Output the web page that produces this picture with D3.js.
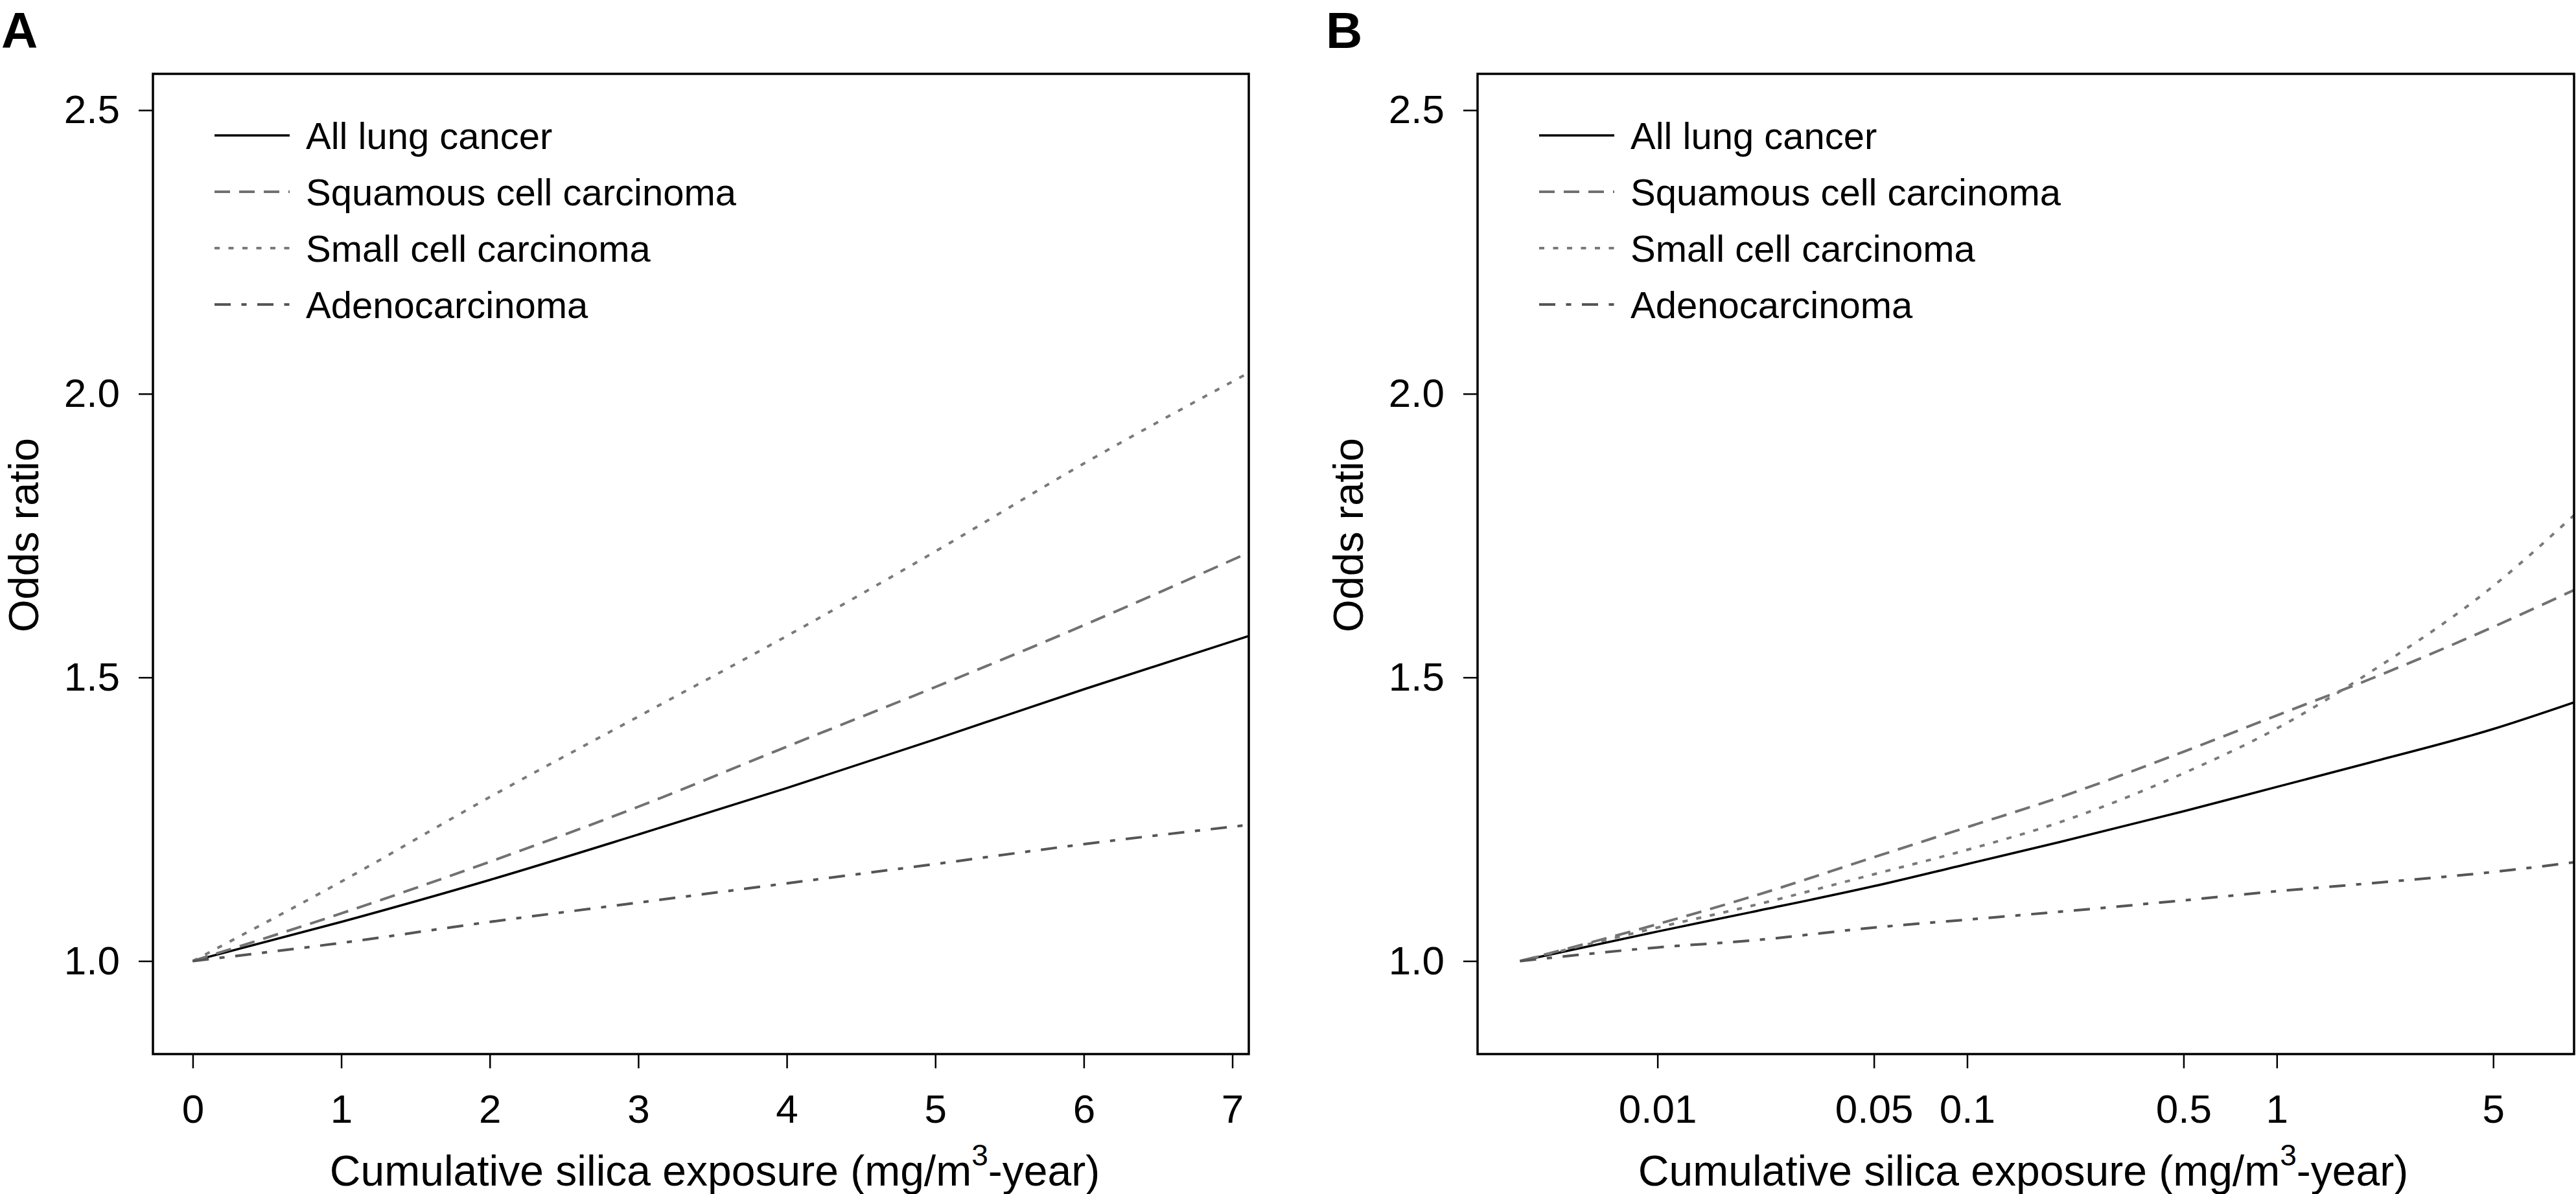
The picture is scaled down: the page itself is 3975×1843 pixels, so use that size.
<!DOCTYPE html>
<html>
<head>
<meta charset="utf-8">
<script src="https://cdn.jsdelivr.net/npm/d3@7"></script>
<style>
  html, body { margin: 0; padding: 0; background: #fff; }
  svg text { font-family: "Liberation Sans", Arial, Helvetica, sans-serif; fill: #000; }
</style>
</head>
<body>
<svg id="chart" width="3975" height="1843"></svg>
<script>
// ---------------- data ----------------
const seriesNames = ["All lung cancer", "Squamous cell carcinoma", "Small cell carcinoma", "Adenocarcinoma"];

// Panel A: linear exposure axis
const xA = [0, 1, 2, 3, 4, 5, 6, 7.11];
const allLungA   = [1.000, 1.069, 1.143, 1.223, 1.305, 1.391, 1.479, 1.573];
const squamousA  = [1.000, 1.084, 1.175, 1.272, 1.378, 1.483, 1.592, 1.720];
const smallCellA = [1.000, 1.140, 1.289, 1.431, 1.573, 1.722, 1.877, 2.037];
const adenoA     = [1.000, 1.032, 1.069, 1.103, 1.137, 1.171, 1.206, 1.240];

// Panel B: log exposure axis
const xB = [0.0036, 0.01, 0.02, 0.05, 0.1, 0.2, 0.5, 1, 2, 5, 9.12];
const allLungB   = [1.000, 1.052, 1.086, 1.132, 1.171, 1.210, 1.264, 1.307, 1.350, 1.409, 1.456];
const squamousB  = [1.000, 1.065, 1.113, 1.183, 1.236, 1.289, 1.369, 1.433, 1.497, 1.589, 1.654];
const smallCellB = [1.000, 1.059, 1.097, 1.153, 1.196, 1.245, 1.331, 1.410, 1.509, 1.661, 1.786];
const adenoB     = [1.000, 1.024, 1.036, 1.059, 1.073, 1.087, 1.107, 1.123, 1.137, 1.157, 1.174];

const yTicks = [1.0, 1.5, 2.0, 2.5];
const yTickLabels = ["1.0", "1.5", "2.0", "2.5"];
const xTicksA = [0, 1, 2, 3, 4, 5, 6, 7];
const xTickLabelsA = ["0", "1", "2", "3", "4", "5", "6", "7"];
const xTicksB = [0.01, 0.05, 0.1, 0.5, 1, 5];
const xTickLabelsB = ["0.01", "0.05", "0.1", "0.5", "1", "5"];

const panelLabels = ["A", "B"];
const yTitle = "Odds ratio";

// ---------------- styles ----------------
const lineStyles = [
  { color: "#000000", width: 3.5, dash: null },
  { color: "#717171", width: 4,   dash: "24,14" },
  { color: "#7a7a7a", width: 4,   dash: "8,13.5" },
  { color: "#555555", width: 4,   dash: "25,16.5,8,16.5" }
];

const svg = d3.select("#chart");
svg.append("rect").attr("width", 3975).attr("height", 1843).attr("fill", "#fff");

const plotTop = 114, plotBottom = 1627;
const yScale = d3.scaleLinear().domain([0.836, 2.564]).range([plotBottom, plotTop]);

function drawPanel(cfg) {
  const { left, right, x, xs, series, xTicks, xTickLabels, label, titleCx, id } = cfg;
  const g = svg.append("g");

  svg.append("clipPath").attr("id", "clip" + id)
    .append("rect").attr("x", left).attr("y", plotTop)
    .attr("width", right - left).attr("height", plotBottom - plotTop);

  const line = d3.line()
    .x((d) => x(d[0]))
    .y((d) => yScale(d[1]))
    .curve(d3.curveMonotoneX);

  const lg = g.append("g").attr("clip-path", `url(#clip${id})`);
  series.forEach((vals, i) => {
    const st = lineStyles[i];
    lg.append("path")
      .datum(xs.map((xv, k) => [xv, vals[k]]))
      .attr("d", line)
      .attr("fill", "none")
      .attr("stroke", st.color)
      .attr("stroke-width", st.width)
      .attr("stroke-dasharray", st.dash)
      .attr("stroke-linecap", "butt");
  });

  const xAxis = d3.axisBottom(x)
    .tickValues(xTicks)
    .tickFormat((d, i) => xTickLabels[i])
    .tickSize(22).tickSizeOuter(0).tickPadding(40);
  const gx = g.append("g").attr("transform", `translate(0,${plotBottom})`).call(xAxis);
  gx.select(".domain").remove();
  gx.selectAll(".tick line").attr("stroke", "#000").attr("stroke-width", 2.5);
  gx.selectAll(".tick text").attr("font-size", 62).attr("font-family", "Liberation Sans, Arial, sans-serif");

  const yAxis = d3.axisLeft(yScale)
    .tickValues(yTicks)
    .tickFormat((d, i) => yTickLabels[i])
    .tickSize(22).tickSizeOuter(0).tickPadding(29);
  const gy = g.append("g").attr("transform", `translate(${left},0)`).call(yAxis);
  gy.select(".domain").remove();
  gy.selectAll(".tick line").attr("stroke", "#000").attr("stroke-width", 2.5);
  gy.selectAll(".tick text").attr("font-size", 62).attr("font-family", "Liberation Sans, Arial, sans-serif");

  g.append("rect")
    .attr("x", left).attr("y", plotTop)
    .attr("width", right - left).attr("height", plotBottom - plotTop)
    .attr("fill", "none").attr("stroke", "#000").attr("stroke-width", 3.5);

  const lgX = left + 95, lgLen = 116, txtX = left + 236;
  const rowY = [209, 296, 383, 470];
  seriesNames.forEach((name, i) => {
    const st = lineStyles[i];
    g.append("line")
      .attr("x1", lgX).attr("x2", lgX + lgLen)
      .attr("y1", rowY[i]).attr("y2", rowY[i])
      .attr("stroke", st.color).attr("stroke-width", st.width)
      .attr("stroke-dasharray", st.dash);
    g.append("text")
      .attr("x", txtX).attr("y", rowY[i] + 21)
      .attr("font-size", 58)
      .text(name);
  });

  g.append("text")
    .attr("transform", `translate(${left - 177},826) rotate(-90)`)
    .attr("text-anchor", "middle")
    .attr("font-size", 65)
    .text(yTitle);

  const t = g.append("text")
    .attr("x", titleCx).attr("y", 1830)
    .attr("text-anchor", "middle")
    .attr("font-size", 66);
  t.append("tspan").text("Cumulative silica exposure (mg/m");
  t.append("tspan").attr("font-size", 46).attr("dy", -31).text("3");
  t.append("tspan").attr("dy", 31).text("-year)");

  g.append("text")
    .attr("x", left - 234).attr("y", 74)
    .attr("font-size", 78).attr("font-weight", "bold")
    .text(label);
}

const leftA = 236, rightA = 1927;
const xScaleA = d3.scaleLinear().domain([-0.268, 7.111]).range([leftA, rightA]);
drawPanel({
  id: "A", left: leftA, right: rightA, x: xScaleA, xs: xA,
  series: [allLungA, squamousA, smallCellA, adenoA],
  xTicks: xTicksA, xTickLabels: xTickLabelsA, label: panelLabels[0], titleCx: 1103
});

const leftB = 2280, rightB = 3972;
const xScaleB = d3.scaleLog().domain([0.002624, 9.12]).range([leftB, rightB]);
drawPanel({
  id: "B", left: leftB, right: rightB, x: xScaleB, xs: xB,
  series: [allLungB, squamousB, smallCellB, adenoB],
  xTicks: xTicksB, xTickLabels: xTickLabelsB, label: panelLabels[1], titleCx: 3122
});
</script>
</body>
</html>
